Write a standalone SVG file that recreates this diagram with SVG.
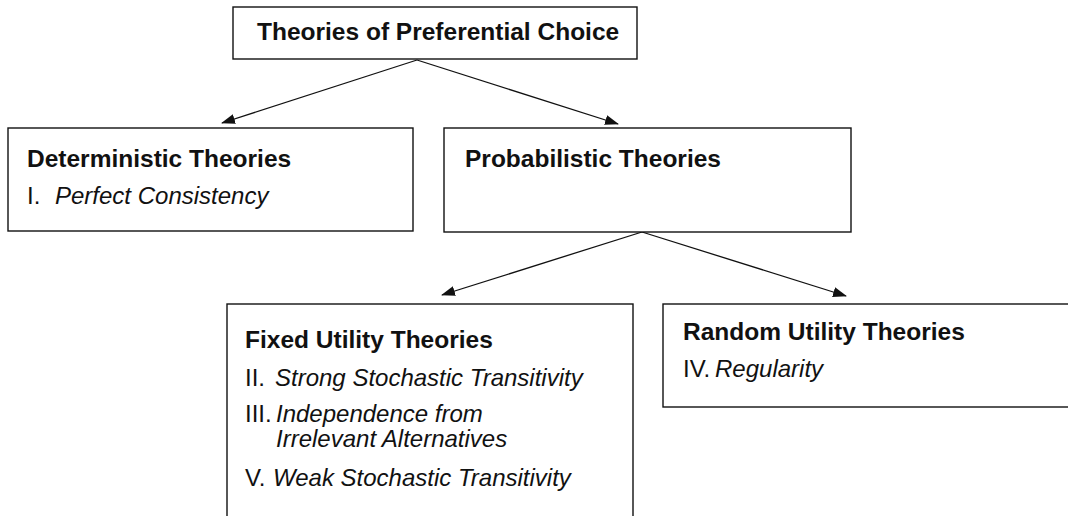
<svg xmlns="http://www.w3.org/2000/svg" width="1068" height="516" viewBox="0 0 1068 516">
<style>
.box{fill:#fff;stroke:#111;stroke-width:1.4}
.h{font-family:"Liberation Sans",Arial,sans-serif;font-weight:bold;font-size:24.5px;fill:#111}
.t{font-family:"Liberation Sans",Arial,sans-serif;font-size:24px;fill:#111}
.i{font-style:italic}
.conn{stroke:#111;stroke-width:1.3;fill:none;marker-end:url(#ah)}
</style>
<defs>
<marker id="ah" markerWidth="14" markerHeight="10" refX="13" refY="5" orient="auto" markerUnits="userSpaceOnUse">
<path d="M0,0 L14,5 L0,10 Z" fill="#111"/>
</marker>
</defs>
<rect width="1068" height="516" fill="#fff"/>
<g id="connectors">
<line class="conn" x1="417" y1="60" x2="222" y2="123"/>
<line class="conn" x1="417" y1="60" x2="618" y2="124"/>
<line class="conn" x1="642" y1="232" x2="442" y2="295"/>
<line class="conn" x1="642" y1="232" x2="846" y2="296"/>
</g>
<g id="root">
<rect class="box" x="233" y="7" width="404" height="52"/>
<text class="h" x="257" y="40">Theories of Preferential Choice</text>
</g>
<g id="deterministic">
<rect class="box" x="8" y="128" width="405" height="103"/>
<text class="h" x="27" y="167">Deterministic Theories</text>
<text class="t" x="27" y="204">I.<tspan class="i" x="55">Perfect Consistency</tspan></text>
</g>
<g id="probabilistic">
<rect class="box" x="444" y="128" width="407" height="104"/>
<text class="h" x="465" y="167">Probabilistic Theories</text>
</g>
<g id="fixed">
<rect class="box" x="227" y="304" width="406" height="230"/>
<text class="h" x="245" y="348">Fixed Utility Theories</text>
<text class="t" x="245" y="386">II.<tspan class="i" x="275">Strong Stochastic Transitivity</tspan></text>
<text class="t" x="245" y="422">III.<tspan class="i" x="276">Independence from</tspan></text>
<text class="t i" x="276" y="447">Irrelevant Alternatives</text>
<text class="t" x="245" y="486">V.<tspan class="i" x="273">Weak Stochastic Transitivity</tspan></text>
</g>
<g id="random">
<rect class="box" x="663" y="304" width="420" height="103"/>
<text class="h" x="683" y="340">Random Utility Theories</text>
<text class="t" x="683" y="377">IV.<tspan class="i" x="715">Regularity</tspan></text>
</g>
</svg>
